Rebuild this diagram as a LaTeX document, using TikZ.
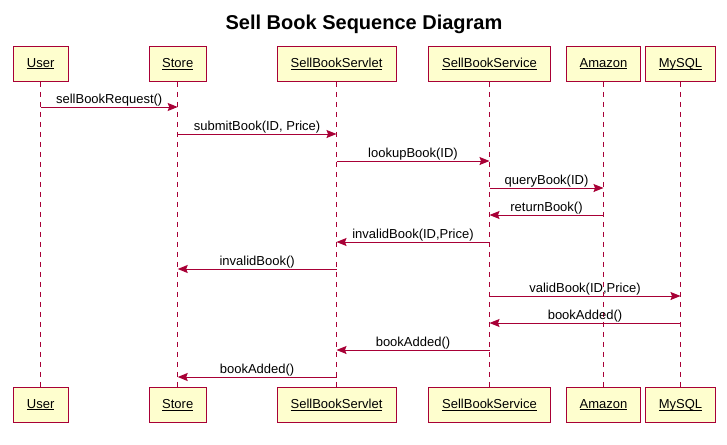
\documentclass[tikz,border=0pt]{standalone}
\usepackage{fontspec}
\setmainfont{Liberation Sans}
\usetikzlibrary{arrows.meta}

\newcommand{\ulname}[1]{\underline{\raisebox{0pt}[\height][0pt]{#1}}}

\begin{document}
\begin{tikzpicture}[x=1pt,y=-1pt,line width=1pt,
	part/.style={draw=umlred,fill=umlfill,minimum height=35pt,inner sep=0pt,
		font=\fontsize{13}{15}\selectfont},
	life/.style={draw=umlred,dash pattern=on 5pt off 5pt},
	msg/.style={draw=umlred,-{Stealth[length=10pt,width=8pt,inset=1.5pt]}},
	lbl/.style={above,inner sep=0pt,font=\fontsize{13}{15}\selectfont}]
	
	\definecolor{umlred}{HTML}{A80036}
	\definecolor{umlfill}{HTML}{FEFECE}
	
	\useasboundingbox (0,0) rectangle (727,444);
	
	\node[font=\bfseries\fontsize{20}{24}\selectfont] (title) at (364,24) {Sell Book Sequence Diagram};
	
	\node[part,minimum width=55pt] (userT) at (40.7,63.8) {\ulname{User}};
	\node[part,minimum width=57pt] (storeT) at (177.7,63.8) {\ulname{Store}};
	\node[part,minimum width=119pt] (servletT) at (336.5,63.8) {\ulname{SellBookServlet}};
	\node[part,minimum width=122pt] (serviceT) at (489.5,63.8) {\ulname{SellBookService}};
	\node[part,minimum width=74pt] (amazonT) at (603.5,63.8) {\ulname{Amazon}};
	\node[part,minimum width=70pt] (mysqlT) at (680.5,63.8) {\ulname{MySQL}};
	
	\node[part,minimum width=55pt] (userB) at (40.7,404.8) {\ulname{User}};
	\node[part,minimum width=57pt] (storeB) at (177.7,404.8) {\ulname{Store}};
	\node[part,minimum width=119pt] (servletB) at (336.5,404.8) {\ulname{SellBookServlet}};
	\node[part,minimum width=122pt] (serviceB) at (489.5,404.8) {\ulname{SellBookService}};
	\node[part,minimum width=74pt] (amazonB) at (603.5,404.8) {\ulname{Amazon}};
	\node[part,minimum width=70pt] (mysqlB) at (680.5,404.8) {\ulname{MySQL}};
	
	\foreach \p in {user,store,servlet,service,amazon,mysql}
		\draw[life] (\p T) -- (\p B);
	
	\foreach \i in {1,...,11}
		\coordinate (m\i) at (0,80+27*\i);
	
	\draw[msg] (userT |- m1) -- node[lbl] {sellBookRequest()} (storeT |- m1);
	\draw[msg] (storeT |- m2) -- node[lbl] {submitBook(ID, Price)} (servletT |- m2);
	\draw[msg] (servletT |- m3) -- node[lbl] {lookupBook(ID)} (serviceT |- m3);
	\draw[msg] (serviceT |- m4) -- node[lbl] {queryBook(ID)} (amazonT |- m4);
	\draw[msg] (amazonT |- m5) -- node[lbl] {returnBook()} (serviceT |- m5);
	\draw[msg] (serviceT |- m6) -- node[lbl] {invalidBook(ID,Price)} (servletT |- m6);
	\draw[msg] (servletT |- m7) -- node[lbl] {invalidBook()} (storeT |- m7);
	\draw[msg] (serviceT |- m8) -- node[lbl] {validBook(ID,Price)} (mysqlT |- m8);
	\draw[msg] (mysqlT |- m9) -- node[lbl] {bookAdded()} (serviceT |- m9);
	\draw[msg] (serviceT |- m10) -- node[lbl] {bookAdded()} (servletT |- m10);
	\draw[msg] (servletT |- m11) -- node[lbl] {bookAdded()} (storeT |- m11);
\end{tikzpicture}
\end{document}
